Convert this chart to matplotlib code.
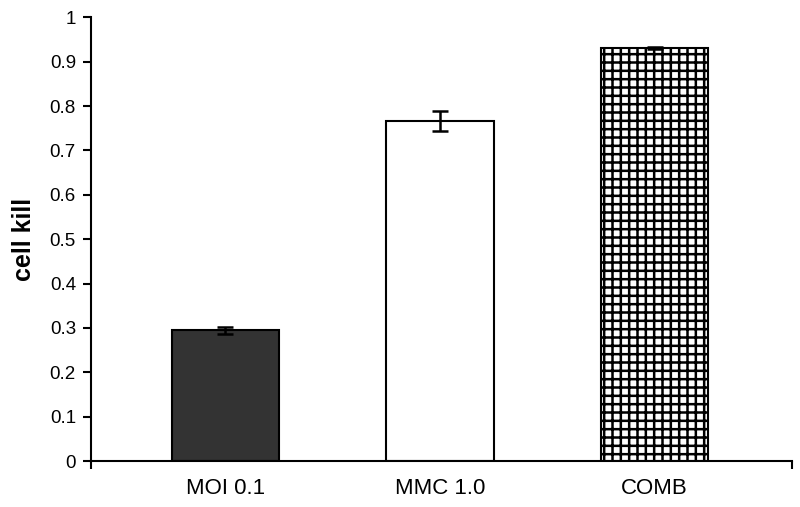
import matplotlib
matplotlib.use("Agg")
import matplotlib.pyplot as plt

categories = ["MOI 0.1", "MMC 1.0", "COMB"]
values = [0.295, 0.767, 0.931]
errors = [0.008, 0.022, 0.003]
colors = ["#333333", "white", "white"]
hatches = ["", "", "++"]

plt.rcParams["font.family"] = ["Liberation Sans", "DejaVu Sans"]
plt.rcParams["hatch.linewidth"] = 1.8
plt.rcParams["hatch.color"] = "#222222"

fig = plt.figure(figsize=(8, 5.07), dpi=100)
ax = fig.add_axes([0.114, 0.0907, 0.876, 0.875])

x = range(len(categories))
bars = ax.bar(x, values, width=0.5, color=colors, edgecolor="black", linewidth=1.5)
for b, h in zip(bars, hatches):
    b.set_hatch(h)
ax.errorbar(x, values, yerr=errors, fmt="none", ecolor="black", elinewidth=1.8,
            capsize=6, capthick=1.8)

ax.set_xlim(-0.625, 2.64)
ax.set_ylim(0, 1)
ax.set_yticks([i / 10 for i in range(11)])
ax.set_yticklabels(["0", "0.1", "0.2", "0.3", "0.4", "0.5", "0.6", "0.7", "0.8", "0.9", "1"])
ax.set_xticks([-0.625, 2.64], minor=True)
ax.set_xticks(list(x))
ax.set_xticklabels(categories, fontsize=16)
ax.tick_params(axis="x", which="major", length=0, pad=12)
ax.tick_params(axis="x", which="minor", length=6, width=1.5, direction="out")
ax.tick_params(axis="y", labelsize=13.5, length=6, width=1.5, direction="out", pad=5)
ax.set_ylabel("cell kill", fontsize=18, fontweight="bold", labelpad=10)

for s in ["top", "right"]:
    ax.spines[s].set_visible(False)
for s in ["left", "bottom"]:
    ax.spines[s].set_linewidth(1.5)

fig.savefig("out.png", dpi=100)
